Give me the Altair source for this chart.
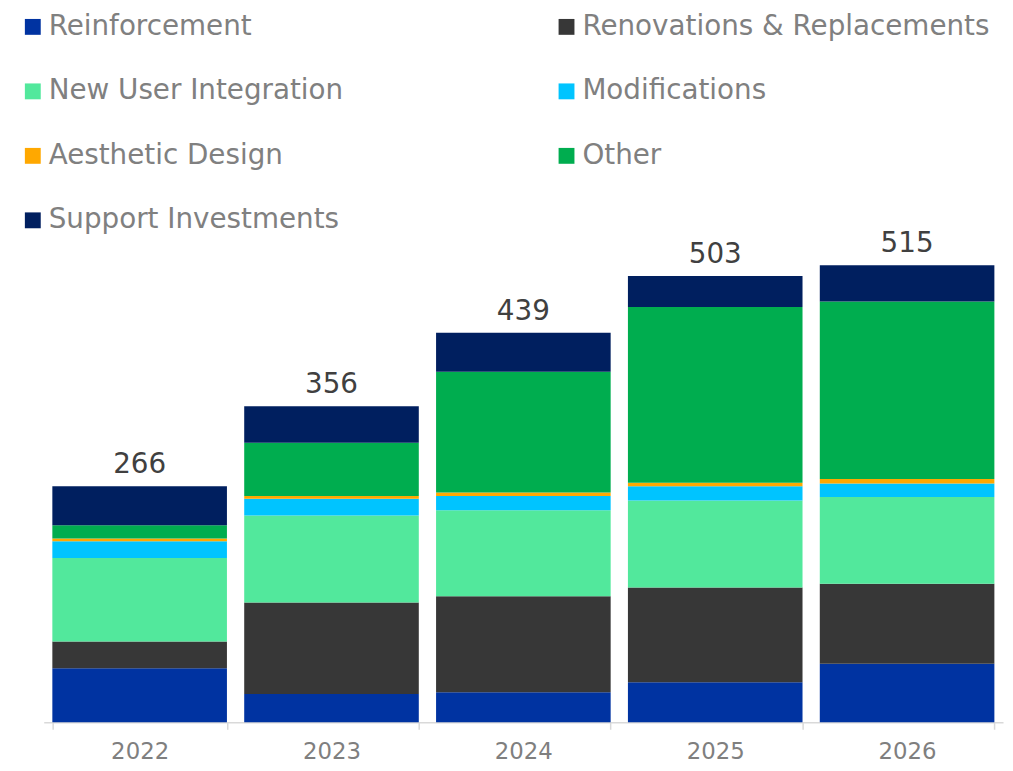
import altair as alt
import pandas as pd

years = ["2022", "2023", "2024", "2025", "2026"]
series = [
    "Reinforcement",
    "Renovations & Replacements",
    "New User Integration",
    "Modifications",
    "Aesthetic Design",
    "Other",
    "Support Investments",
]
colors = ["#0033A1", "#373737", "#52E89C", "#00C4FF", "#FFA800", "#00AD4F", "#001F5F"]

reinforcement = [61, 32, 34, 45, 66]
renovations = [30, 103, 108, 107, 90]
new_user = [94, 98, 97, 98, 98]
modifications = [19, 19, 16, 16, 15]
aesthetic = [3, 3, 4, 4, 5]
other = [15, 60, 136, 198, 200]
support = [44, 41, 44, 35, 41]
totals = [266, 356, 439, 503, 515]

values = [reinforcement, renovations, new_user, modifications, aesthetic, other, support]

rows = []
for si, (name, vals) in enumerate(zip(series, values)):
    for y, v in zip(years, vals):
        rows.append({"year": y, "series": name, "value": v, "order": si})
df = pd.DataFrame(rows)
tot_df = pd.DataFrame({"year": years, "total": totals})

# legend fills column by column: reorder so it reads row by row in two columns
legend_idx = [0, 2, 4, 6, 1, 3, 5]
legend_domain = [series[i] for i in legend_idx]
legend_range = [colors[i] for i in legend_idx]

FONT = "DejaVu Sans"

x_enc = alt.X(
    "year:N",
    sort=years,
    scale=alt.Scale(paddingInner=0.09, paddingOuter=0.045),
    axis=alt.Axis(
        title=None,
        labelAngle=0,
        labelFont=FONT,
        labelFontSize=23,
        labelColor="#7F7F7F",
        labelPadding=11,
        domainColor="#D9D9D9",
        domainWidth=1.5,
        tickColor="#D9D9D9",
        tickWidth=1.5,
        tickSize=7,
        tickBand="extent",
    ),
)

y_scale = alt.Scale(domain=[0, 560], nice=False)

bars = alt.Chart(df).mark_bar().encode(
    x=x_enc,
    y=alt.Y("value:Q", stack="zero", scale=y_scale, axis=None),
    color=alt.Color(
        "series:N",
        scale=alt.Scale(domain=legend_domain, range=legend_range),
        legend=alt.Legend(
            title=None,
            orient="none",
            legendX=-25,
            legendY=-214,
            columns=2,
            columnPadding=211,
            rowPadding=37,
            symbolType="square",
            symbolSize=256,
            symbolStrokeWidth=0,
            symbolOffset=0,
            labelFont=FONT,
            labelFontSize=28,
            labelColor="#808080",
            labelLimit=700,
            labelOffset=2,
            padding=0,
        ),
    ),
    order=alt.Order("order:Q", sort="ascending"),
)

labels = alt.Chart(tot_df).mark_text(
    dy=-13, baseline="alphabetic", align="center", font=FONT, fontSize=28, color="#404040"
).encode(
    x=alt.X("year:N", sort=years),
    y=alt.Y("total:Q", scale=y_scale),
    text=alt.Text("total:Q"),
)

chart = (
    alt.layer(bars, labels)
    .properties(
        width=967,
        height=501,
        padding={"left": 36, "top": 216, "right": 2, "bottom": 40},
        autosize=alt.AutoSizeParams(type="none"),
    )
    .configure_view(stroke=None)
)

chart.save("out.html", embed_options={"renderer": "svg", "actions": False})
